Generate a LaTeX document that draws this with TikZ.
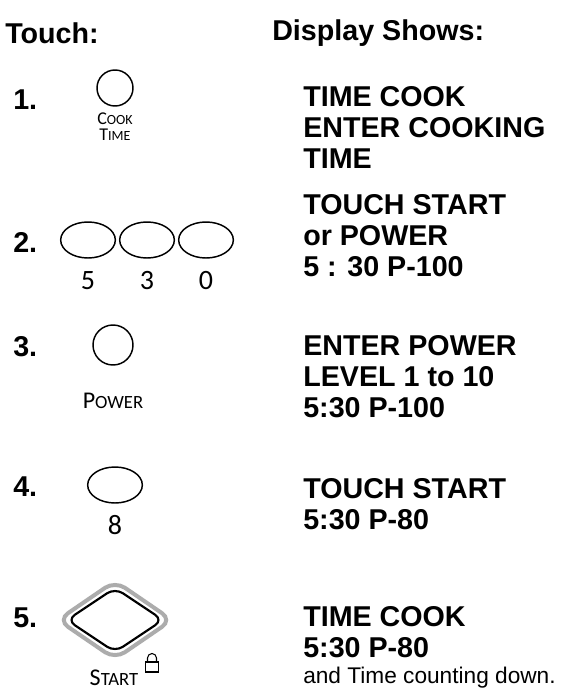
\documentclass[tikz,border=0pt]{standalone}
\usepackage{fontspec}
\setmainfont{Liberation Sans}
\newfontfamily\keyfont[Numbers=Lining]{Carlito}
\usepackage{tikz}
\usetikzlibrary{shapes.geometric, positioning, calc}

% fake small caps for the key labels
\newcommand{\keycaps}[4]{{\fontsize{#1}{#1}\selectfont #3}{\fontsize{#2}{#2}\selectfont #4}}

\begin{document}
\begin{tikzpicture}[x=0.75pt, y=-0.75pt,
        node distance=2pt and 2pt,
        head/.style={anchor=west, inner sep=0, font=\fontsize{21.5}{23}\selectfont\bfseries},
        stepnum/.style={anchor=west, inner sep=0, font=\fontsize{21.5}{23}\selectfont\bfseries},
        disp/.style={anchor=north west, inner sep=0, align=left, font=\fontsize{21.5}{23.25}\selectfont\bfseries},
        keyround/.style={draw, circle, line width=1.1pt, inner sep=0, minimum size=27pt},
        keyoval/.style={draw, ellipse, line width=1.1pt, inner sep=0, minimum width=41pt, minimum height=27pt},
        keydigit/.style={inner sep=0, anchor=base, font=\keyfont\fontsize{21}{21}\selectfont},
        keylbl/.style={inner sep=0, align=center, font=\keyfont}
    ]
    \useasboundingbox (0,0) rectangle (563,699);

    % column heads
    \node[head] (hdtouch) at (5,33) {Touch:};
    \node[head] (hdshow) at (272,33) {Display Shows:};

    % step numbers
    \node[stepnum] (num1) at (13,100) {1.};
    \node[stepnum] (num2) at (13,242) {2.};
    \node[stepnum] (num3) at (13,347) {3.};
    \node[stepnum] (num4) at (13,487) {4.};
    \node[stepnum] (num5) at (13,618) {5.};

    % keys to touch
    \node[keyround] (key1) at (115,88) {};
    \node[keylbl, below=4pt of key1] (lbl1) {\keycaps{13.5}{10.5}{C}{OOK}\\\keycaps{13.5}{10.5}{T}{IME}};

    \node[keyoval] (key2a) at (88,240) {};
    \node[keyoval] (key2b) at (147,240) {};
    \node[keyoval] (key2c) at (206,240) {};
    \node[keydigit] (dig2a) at (88,289) {5};
    \node[keydigit] (dig2b) at (147,289) {3};
    \node[keydigit] (dig2c) at (206,289) {0};

    \node[keyround, minimum size=30pt] (key3) at (113,345) {};
    \node[keylbl, below=20pt of key3] (lbl3) {\keycaps{18}{14}{P}{OWER}};

    \node[keyoval] (key4) at (115,485) {};
    \node[keydigit] (dig4) at (115,534) {8};

    \coordinate (key5) at (115,620);
    \draw[line width=3pt, gray!65, rounded corners=9pt]
        ($(key5)+(-57,0)$) -- ($(key5)+(0,-39)$) -- ($(key5)+(57,0)$) -- ($(key5)+(0,39)$) -- cycle;
    \draw[line width=1.6pt, rounded corners=7pt]
        ($(key5)+(-48,0)$) -- ($(key5)+(0,-32)$) -- ($(key5)+(48,0)$) -- ($(key5)+(0,32)$) -- cycle;
    \node[keylbl] (lbl5) at (114,678) {\keycaps{18}{14}{S}{TART}};
    % lock symbol
    \coordinate (lock) at (152,667);
    \draw[line width=0.8pt] ($(lock)+(-6.5,-5)$) rectangle ($(lock)+(6.5,5)$);
    \draw[line width=0.8pt] ($(lock)+(-4.5,-5)$) -- ($(lock)+(-4.5,-9)$) arc[start angle=180, end angle=360, radius=4.5] -- ($(lock)+(4.5,-5)$);

    % what the display shows
    \node[disp] (disp1) at (303,86) {TIME COOK\\ENTER COOKING\\TIME};
    \node[disp] (disp2) at (303,194) {TOUCH START\\or POWER\\5 : 30 P-100};
    \node[disp] (disp3) at (303,335) {ENTER POWER\\LEVEL 1 to 10\\5:30 P-100};
    \node[disp] (disp4) at (303,478) {TOUCH START\\5:30 P-80};
    \node[disp] (disp5) at (303,606) {TIME COOK\\5:30 P-80};
    \node[anchor=base west, inner sep=0, font=\fontsize{17}{19}\selectfont] (disp5b) at (303,683) {and Time counting down.};

\end{tikzpicture}
\end{document}
